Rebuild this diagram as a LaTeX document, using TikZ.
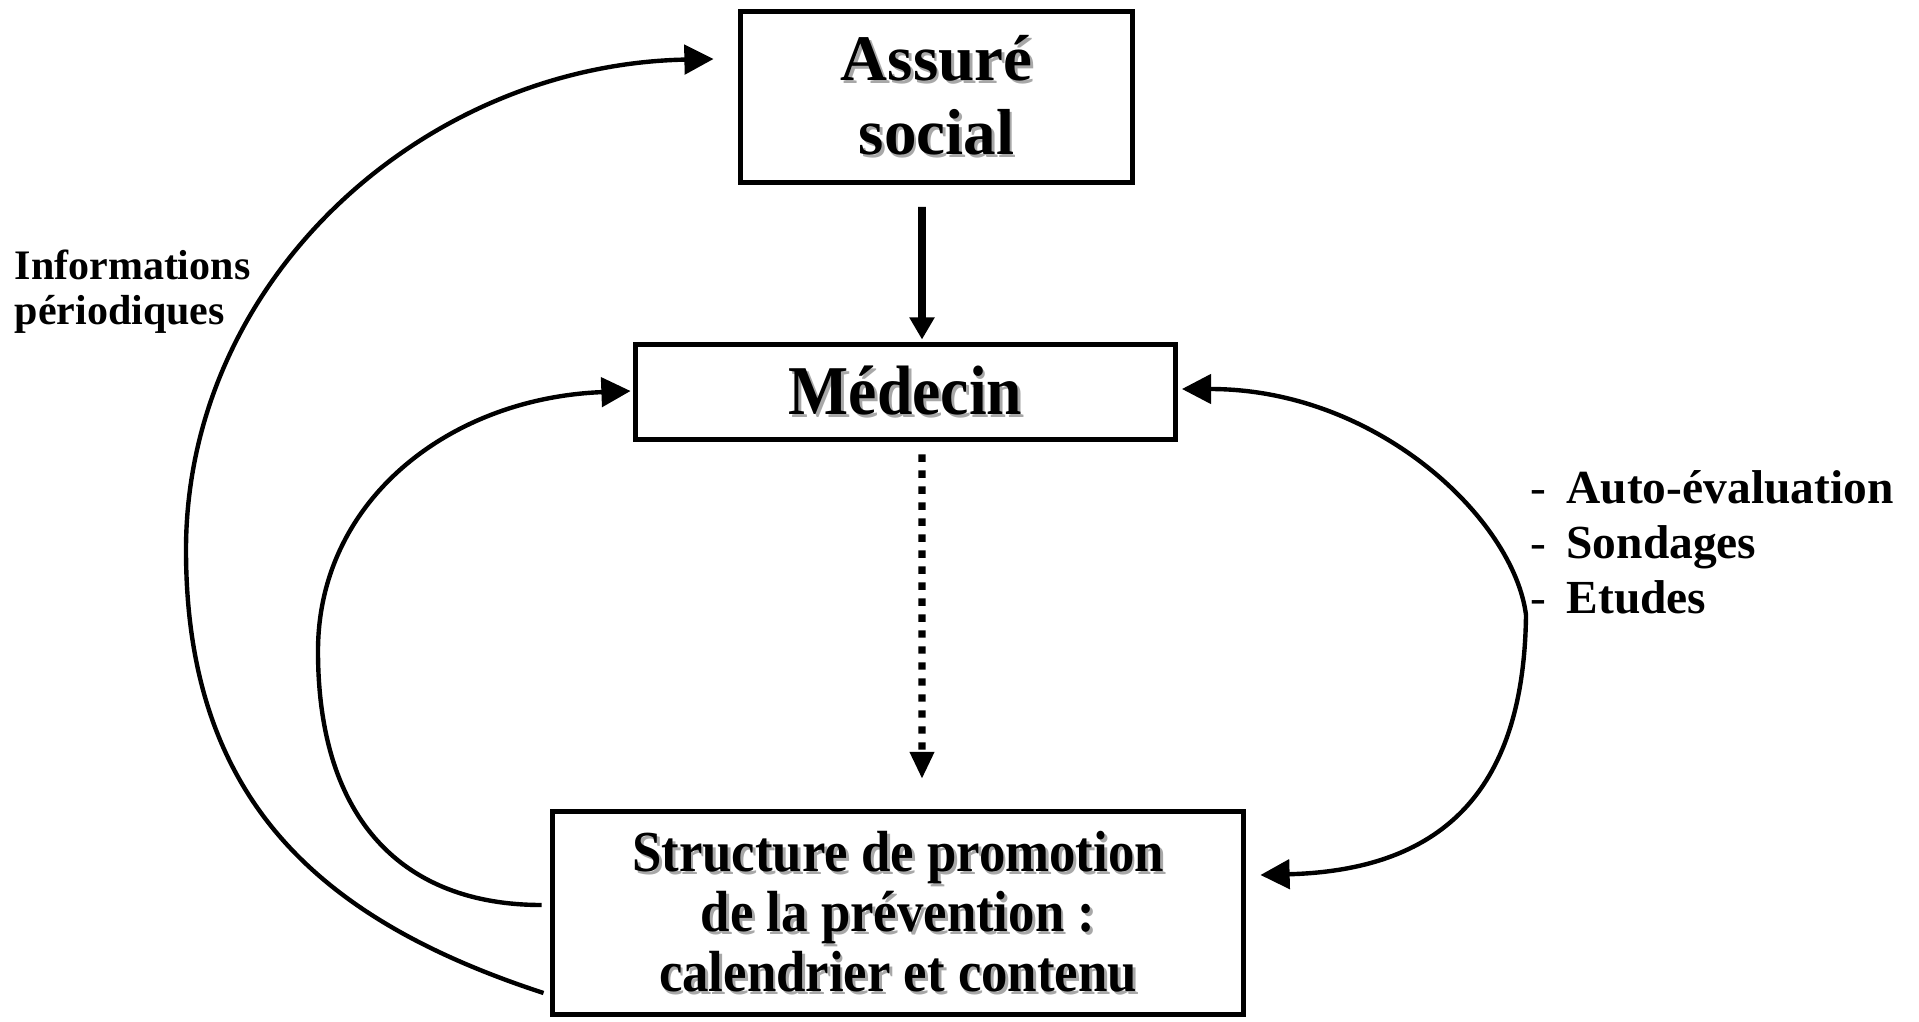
\documentclass[tikz,border=0pt]{standalone}
\usepackage{fontspec}
\setmainfont{Liberation Serif}
\newfontfamily\narrowserif[FakeStretch=0.91]{Liberation Serif}
\usepackage{xcolor}
\usepackage{graphicx}
\usepackage{tikz}
\usetikzlibrary{positioning,calc,arrows.meta}
\definecolor{shadowgray}{HTML}{A8A8A8}
\newcommand{\shadowed}[1]{\leavevmode\rlap{\kern0.8pt\raisebox{-0.8pt}{\textcolor{shadowgray}{#1}}}#1}

\begin{document}
\begin{tikzpicture}[
  actorbox/.style={draw=black, line width=1.4pt, fill=white, inner sep=0pt, align=center},
  loopline/.style={line width=1.25pt, draw=black},
  sidelabel/.style={anchor=north west, inner sep=0pt, align=left},
  >={Triangle[length=8.3pt, width=8.3pt]},
]
\useasboundingbox (0,0) rectangle (19.19,10.21);

% actors
\node[actorbox, minimum width=3.92cm, minimum height=1.71cm,
      font=\fontsize{18.5pt}{21pt}\selectfont\bfseries] (assure) at (9.365,9.24)
      {\shadowed{Assuré}\\\shadowed{social}};
\node[actorbox, minimum width=5.40cm, minimum height=0.95cm,
      font=\narrowserif\fontsize{19.9pt}{22pt}\selectfont\bfseries] (medecin) at (9.055,6.29)
      {\shadowed{Médecin}};
\node[actorbox, minimum width=6.91cm, minimum height=2.03cm,
      font=\narrowserif\fontsize{16.5pt}{17.1pt}\selectfont\bfseries] (promo) at (8.98,1.08)
      {\shadowed{Structure de promotion}\\\shadowed{de la prévention :}\\\shadowed{calendrier et contenu}};

% side labels
\node[sidelabel, font=\fontsize{11.95pt}{13pt}\selectfont\bfseries] (infolab) at (0.14,7.72)
      {Informations\\périodiques};
\node[sidelabel, font=\fontsize{13.5pt}{15.65pt}\selectfont\bfseries] (methods) at (15.30,5.51)
      {{\mdseries -}\hspace{5.7pt}Auto-évaluation\\{\mdseries -}\hspace{5.7pt}Sondages\\{\mdseries -}\hspace{5.7pt}Etudes};

% straight links
\draw[line width=2.2pt, -{Triangle[length=6.3pt, width=6.8pt]}]
  ([xshift=-0.145cm, yshift=-0.22cm]assure.south) -- ([xshift=0.165cm, yshift=0.025cm]medecin.north);
\draw[line width=2.1pt, dash pattern=on 2.1pt off 2.45pt, -{Triangle[length=7.7pt, width=6.5pt]}]
  ([xshift=0.165cm, yshift=-0.125cm]medecin.south) -- ([xshift=0.24cm, yshift=0.30cm]promo.north);

% loops
\draw[loopline, ->] ([xshift=-0.065cm, yshift=-0.80cm]promo.west)
  .. controls (3.20,1.01) and (1.86,2.21) .. (1.86,4.71)
  .. controls (1.86,7.42) and (4.23,9.56) .. ([xshift=-0.245cm, yshift=0.38cm]assure.west);
\draw[loopline, ->] ([xshift=-0.085cm, yshift=0.08cm]promo.west)
  .. controls (4.04,1.16) and (3.18,2.00) .. (3.18,3.70)
  .. controls (3.18,5.21) and (4.50,6.23) .. ([xshift=-0.025cm, yshift=0.01cm]medecin.west);
\draw[loopline, <->] ([xshift=0.04cm, yshift=0.03cm]medecin.east)
  .. controls (13.78,6.32) and (15.14,5.01) .. (15.26,4.06)
  .. controls (15.24,2.36) and (14.48,1.51) .. ([xshift=0.145cm, yshift=0.38cm]promo.east);
\end{tikzpicture}
\end{document}
